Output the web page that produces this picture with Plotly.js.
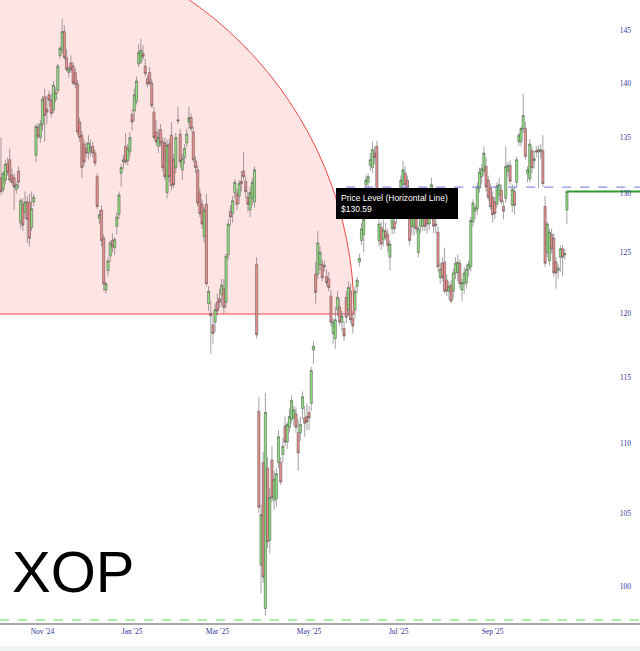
<!DOCTYPE html>
<html><head><meta charset="utf-8">
<script src="https://cdn.plot.ly/plotly-3.0.1.min.js"></script>
<style>html,body{margin:0;padding:0;background:#fff;}#chart{width:640px;height:651px;}</style>
</head><body><div id="chart"></div>
<script>
const ticker = 'XOP';
const firstSession = '2024-10-07';
const marketHolidays = ['2024-11-28','2024-12-25','2025-01-01','2025-01-09','2025-01-20','2025-02-17','2025-04-18','2025-05-26','2025-06-19','2025-07-04','2025-09-01'];

const open = [
131.4,130.4,131.2,132.6,133.0,131.6,131.4,130.4,132.0,127.5,
129.1,128.4,129.3,129.3,127.1,129.3,133.4,135.9,135.0,136.2,
138.7,137.6,138.9,138.4,137.5,138.5,139.3,142.6,143.1,144.9,
142.4,141.0,141.9,141.6,141.0,139.9,136.4,135.2,134.4,134.0,
133.6,133.8,134.2,133.6,131.5,127.9,128.6,126.2,121.9,123.5,
124.7,126.0,125.4,127.2,128.2,131.8,132.8,134.2,132.9,133.7,
137.1,137.4,138.3,141.8,142.0,142.8,141.6,140.4,141.0,140.0,
137.3,135.5,134.2,135.7,134.6,134.5,130.1,134.4,135.2,133.0,
132.3,136.6,135.3,132.1,133.2,134.5,136.4,136.8,135.5,132.9,
132.1,130.0,129.1,126.3,129.1,120.8,120.0,119.1,119.3,120.9,
121.2,121.5,122.0,120.9,124.8,128.5,128.3,130.1,130.0,129.8,
131.1,132.0,131.1,129.7,128.6,129.6,129.3,124.0,112.4,101.4,
108.6,98.5,108.2,103.1,108.8,105.9,106.0,108.6,108.6,109.2,
111.3,110.1,111.2,111.8,111.9,112.2,110.8,110.8,112.6,111.9,
112.0,112.3,113.0,117.1,123.2,123.2,124.0,124.0,123.8,123.0,
122.8,121.4,118.4,118.0,120.3,120.5,119.3,118.8,121.3,120.3,
121.8,119.6,120.3,122.2,124.2,126.0,126.5,130.8,131.0,132.5,
132.3,133.6,134.2,126.0,127.1,126.1,126.8,126.5,124.6,127.0,
127.6,128.0,129.0,129.7,130.8,131.8,131.2,128.0,127.2,127.1,
128.6,125.0,127.2,127.2,128.0,127.9,127.4,130.5,128.0,127.4,
126.7,122.9,124.1,124.2,122.7,121.8,122.3,121.8,123.3,123.3,
124.1,121.9,122.4,122.5,123.6,123.8,127.6,128.5,128.7,130.5,
131.5,132.0,132.4,131.2,130.5,129.7,129.3,129.1,129.9,130.3,
128.9,129.6,132.0,132.5,129.0,130.2,131.0,134.6,134.6,135.8,
135.8,131.8,131.3,133.8,132.9,133.8,133.9,133.7,133.8,128.9,
125.0,124.3,126.5,126.2,124.2,123.5,124.6,125.3,124.8,128.6];
const high = [
135.0,132.0,133.0,133.2,134.0,132.2,131.8,131.0,132.4,129.6,
129.6,130.2,129.8,130.0,130.2,130.0,136.2,136.3,136.6,138.8,
139.5,138.8,139.3,139.0,140.2,139.6,141.8,143.5,146.1,145.5,
143.2,141.6,142.6,142.0,141.4,140.3,136.8,135.6,134.8,134.6,
135.2,134.8,134.6,133.9,131.8,128.6,129.0,126.5,122.6,124.6,
126.0,126.6,126.3,128.4,130.2,132.6,133.4,135.4,134.4,135.5,
137.6,139.5,140.6,143.7,144.2,143.6,142.3,140.8,141.5,140.4,
137.8,136.6,135.8,136.2,135.0,135.0,134.8,134.9,136.4,133.5,
135.4,137.8,135.8,133.5,134.4,135.8,137.8,137.2,136.0,133.3,
132.5,130.5,129.5,128.9,130.0,122.2,121.0,119.8,120.8,121.6,
122.0,122.8,122.8,124.9,127.8,129.0,129.8,131.3,130.4,131.2,
132.0,133.7,131.5,130.2,130.6,131.4,132.4,124.6,113.5,105.6,
109.4,113.8,109.0,106.8,109.8,108.0,108.2,111.0,109.0,110.4,
112.0,111.6,112.6,113.6,112.8,112.7,111.8,112.0,113.9,112.8,
113.0,112.8,115.8,117.8,124.2,126.8,125.5,124.4,124.3,123.6,
123.4,121.9,119.6,120.5,121.8,121.2,120.2,119.4,121.8,122.6,
122.4,120.2,122.2,123.0,124.9,127.5,128.1,131.6,131.8,133.6,
134.6,134.2,134.7,127.8,127.6,127.8,127.5,127.0,126.0,128.5,
128.0,129.3,130.0,131.6,132.9,132.4,131.6,128.5,128.3,129.0,
129.2,127.2,128.4,128.8,128.6,128.4,128.6,131.4,128.6,128.0,
127.2,124.2,124.6,125.4,123.2,122.6,122.7,123.6,124.6,124.8,
124.4,122.8,123.8,124.0,124.3,128.0,129.5,129.0,131.0,132.3,
132.6,134.2,133.2,131.6,130.9,130.2,129.7,131.0,131.4,130.8,
129.4,134.2,132.8,133.0,130.8,130.6,133.3,135.4,136.0,139.0,
136.4,132.4,134.8,134.2,133.8,134.2,134.3,134.4,135.2,129.8,
127.6,127.0,127.0,126.6,124.6,124.0,125.6,125.6,125.3,130.2];
const low = [
129.9,130.1,130.8,131.6,131.0,130.8,128.6,130.0,130.5,127.0,
126.8,127.8,125.8,125.5,126.8,128.9,132.8,134.9,134.5,135.6,
134.6,136.2,137.8,136.8,137.2,138.2,139.0,142.3,142.8,142.2,
141.1,140.5,141.0,139.8,139.5,135.2,134.6,131.4,132.4,133.2,
133.0,133.3,133.2,132.4,128.7,127.4,125.5,121.8,121.6,123.0,
124.2,125.0,124.8,126.5,127.8,130.6,132.2,132.6,132.5,133.2,
135.6,136.5,138.0,141.5,141.8,142.2,140.6,139.6,139.8,137.7,
134.8,134.3,133.6,134.2,132.0,131.2,129.6,131.0,130.3,130.5,
131.8,136.2,132.3,131.2,132.6,134.1,135.8,135.5,132.8,131.8,
128.9,128.0,127.0,125.8,122.2,120.2,116.8,117.6,118.5,119.8,
120.4,120.6,120.0,120.4,124.4,127.2,127.5,129.6,128.6,129.1,
130.2,131.2,129.6,128.4,128.0,129.0,128.8,118.0,105.0,99.5,
100.2,98.0,102.6,102.2,105.8,105.2,105.4,108.2,107.0,108.6,
109.8,109.6,110.8,111.5,111.3,110.8,108.0,110.2,111.8,110.5,
111.0,111.0,112.4,116.0,120.8,122.8,123.5,122.6,123.4,122.2,
121.8,119.0,117.6,117.2,119.8,119.0,118.6,117.8,119.2,119.8,
119.2,118.4,119.6,121.6,123.8,125.6,125.0,130.0,130.5,132.0,
131.8,132.6,129.4,125.5,125.2,125.5,126.0,125.0,123.5,126.5,
126.6,127.4,128.6,129.3,130.4,130.5,129.0,125.6,126.5,126.4,
126.6,124.6,126.6,126.8,126.8,126.6,126.9,130.0,126.6,126.6,
123.4,122.4,122.6,121.6,121.4,121.1,120.8,121.2,122.8,122.6,
122.0,121.0,121.6,122.0,123.0,123.4,127.2,127.8,128.2,130.1,
130.8,131.6,130.2,129.4,128.6,127.5,127.8,128.8,129.4,129.0,
127.8,129.2,131.5,130.8,128.4,128.2,130.6,134.2,134.2,135.4,
133.0,131.0,131.0,131.8,132.2,133.2,130.5,133.1,130.6,123.8,
124.6,123.9,124.9,123.0,122.0,122.8,123.4,123.0,124.4,127.4];
const close = [
130.2,131.8,132.6,131.9,131.2,131.0,130.6,130.8,131.0,129.4,
127.3,129.3,127.8,126.2,128.7,129.7,136.0,135.1,136.2,138.5,
137.0,137.3,138.4,137.2,139.8,139.1,141.6,143.3,144.9,142.4,
141.3,141.3,141.3,140.0,139.9,135.5,135.0,132.3,132.8,133.6,
134.5,134.1,133.6,132.7,128.9,128.2,126.0,122.4,122.4,124.3,
125.8,125.5,126.1,128.0,129.9,132.3,133.0,132.8,134.0,135.0,
136.4,138.9,140.2,142.9,143.1,142.5,140.9,139.9,140.0,137.9,
135.0,134.6,135.0,134.5,132.3,131.5,134.3,131.5,130.7,130.8,
135.0,136.5,132.8,133.1,134.0,135.3,136.8,135.8,133.0,132.3,
129.2,128.3,127.4,128.6,122.4,121.8,119.8,118.4,120.3,120.2,
120.9,122.3,120.5,124.7,127.4,128.0,129.4,131.0,129.1,130.9,
130.9,131.5,130.2,129.1,130.1,131.0,132.1,118.3,105.4,104.9,
100.6,112.3,103.0,106.1,106.1,107.4,107.8,110.5,107.2,109.8,
110.1,111.4,112.0,113.2,112.5,111.2,109.3,111.4,113.5,111.5,
111.6,111.9,115.5,117.4,121.7,125.8,125.0,122.9,123.9,122.5,
122.1,119.3,119.3,119.5,121.3,119.3,119.8,118.2,119.7,122.1,
119.5,119.0,121.8,122.7,124.5,127.0,127.8,131.2,131.5,133.0,
133.9,133.2,129.6,127.4,125.7,126.9,126.3,125.6,125.7,128.0,
127.0,129.1,129.6,131.2,132.1,130.8,129.3,126.0,128.0,128.5,
127.0,127.0,128.0,128.2,127.2,127.4,128.3,130.8,127.2,127.3,
123.8,123.6,122.9,121.8,121.8,122.2,121.0,123.3,124.1,124.2,
122.4,122.5,123.3,123.6,124.0,127.7,129.2,128.8,130.6,131.9,
132.2,133.6,130.6,129.7,128.9,128.2,128.3,130.7,130.8,129.3,
128.5,132.4,132.5,131.1,130.4,129.0,133.0,135.2,135.8,137.0,
133.3,132.1,134.4,132.3,133.1,133.7,133.7,133.9,130.9,124.1,
127.4,126.7,125.3,123.3,123.3,123.7,125.3,124.6,124.9,130.2];

const priceLevel = 130.59;
const priceLevelFrom = '2025-05-27';
const supportLevel = 97.75;
const tickMonths = ['2024-11','2025-01','2025-03','2025-05','2025-07','2025-09'];
const monthNames = ['Jan','Feb','Mar','Apr','May','Jun','Jul','Aug','Sep','Oct','Nov','Dec'];
const yTicks = [100,105,110,115,120,125,130,135,140,145];

// trading sessions (x categories)
const sessions = [];
(function(){
  const d = new Date(firstSession + 'T00:00:00Z');
  while (sessions.length < close.length) {
    const iso = d.toISOString().slice(0,10);
    const wd = d.getUTCDay();
    if (wd !== 0 && wd !== 6 && marketHolidays.indexOf(iso) < 0) sessions.push(iso);
    d.setUTCDate(d.getUTCDate()+1);
  }
})();
const idx = sessions.map((_, i) => i);
const tickvals = tickMonths.map(m => sessions.findIndex(s => s.startsWith(m)));
const ticktext = tickMonths.map(m => monthNames[+m.slice(5)-1] + " '" + m.slice(2,4));

const W = 640, PH = 623;
const X0 = -0.46, X1 = X0 + W / 2.185;
const px = x => x / W;
const py = y => 1 - y / PH;
const last = close.length - 1;
const levelStart = sessions.indexOf(priceLevelFrom);

const traces = [
  {type:'candlestick', x: idx, open, high, low, close, text: sessions,
   increasing:{fillcolor:'#8ee07c', line:{color:'#4a4a4a', width:0.5}},
   decreasing:{fillcolor:'#ec8e8c', line:{color:'#4a4a4a', width:0.5}},
   whiskerwidth:0, hoverinfo:'skip', showlegend:false},
  {type:'scatter', mode:'lines', x:[levelStart, X1], y:[priceLevel, priceLevel],
   line:{color:'rgba(120,120,225,0.85)', width:1.2, dash:'dash'}, hoverinfo:'skip', showlegend:false},
  {type:'scatter', mode:'lines', x:[last, X1], y:[close[last], close[last]],
   line:{color:'#2f9a2f', width:2}, hoverinfo:'skip', showlegend:false},
  {type:'scatter', mode:'lines', x:[X0, X1], y:[supportLevel, supportLevel],
   line:{color:'#55dd55', width:1, dash:'dash'}, hoverinfo:'skip', showlegend:false}
];

const tickFont = {family:'Liberation Serif, DejaVu Serif, serif', size:7.5, color:'#34349c'};

const layout = {
  width: 640, height: 651,
  margin: {l:0, r:0, t:0, b:28, pad:0},
  paper_bgcolor:'#fff', plot_bgcolor:'#fff',
  showlegend:false, hovermode:false, dragmode:false,
  boxgap:0, boxgroupgap:0,
  xaxis:{type:'linear', range:[X0, X1], rangeslider:{visible:false},
    showgrid:false, zeroline:false, showline:true, linecolor:'#a8a8a8', linewidth:1.5,
    tickvals, ticktext, ticks:'', tickfont:tickFont},
  yaxis:{type:'log', range:[Math.log10(97.55), Math.log10(148.0)], side:'right',
    ticklabelposition:'inside', ticklabelstandoff:6,
    tickvals:yTicks, ticktext:yTicks.map(String), ticks:'',
    showgrid:false, zeroline:false, showline:false, tickfont:tickFont},
  shapes:[
    {type:'circle', xref:'paper', yref:'paper', x0:px(-410), x1:px(354), y0:py(696), y1:py(-68),
     fillcolor:'rgba(255,0,0,0.105)', line:{color:'rgb(240,72,72)', width:1}, layer:'below'},
    {type:'rect', xref:'paper', yref:'paper', x0:-0.02, x1:1.02, y0:py(720), y1:py(314.5),
     fillcolor:'#ffffff', line:{width:0}, layer:'below'},
    {type:'line', xref:'paper', yref:'paper', x0:0, x1:px(354), y0:py(314), y1:py(314),
     line:{color:'rgb(240,72,72)', width:1}, layer:'below'},
    {type:'rect', xref:'paper', yref:'paper', x0:0, x1:1, y0:py(651), y1:py(646),
     fillcolor:'#eef3f3', line:{width:0}, layer:'below'}
  ],
  annotations:[
    {xref:'paper', yref:'paper', x:px(336), y:py(188), xanchor:'left', yanchor:'top',
     text:'Price Level (Horizontal Line)<br>$' + priceLevel.toFixed(2), align:'left', width:112,
     showarrow:false, bgcolor:'#000', bordercolor:'#000', borderpad:4,
     font:{family:'Liberation Sans, Arial, sans-serif', size:8.5, color:'#fff'}},
    {xref:'paper', yref:'paper', x:px(10), y:py(606), xanchor:'left', yanchor:'bottom',
     text:ticker, showarrow:false,
     font:{family:'Liberation Sans, Arial, sans-serif', size:58, color:'#000'}}
  ]
};

Plotly.newPlot('chart', traces, layout, {staticPlot:true, displayModeBar:false});
</script>
</body></html>
